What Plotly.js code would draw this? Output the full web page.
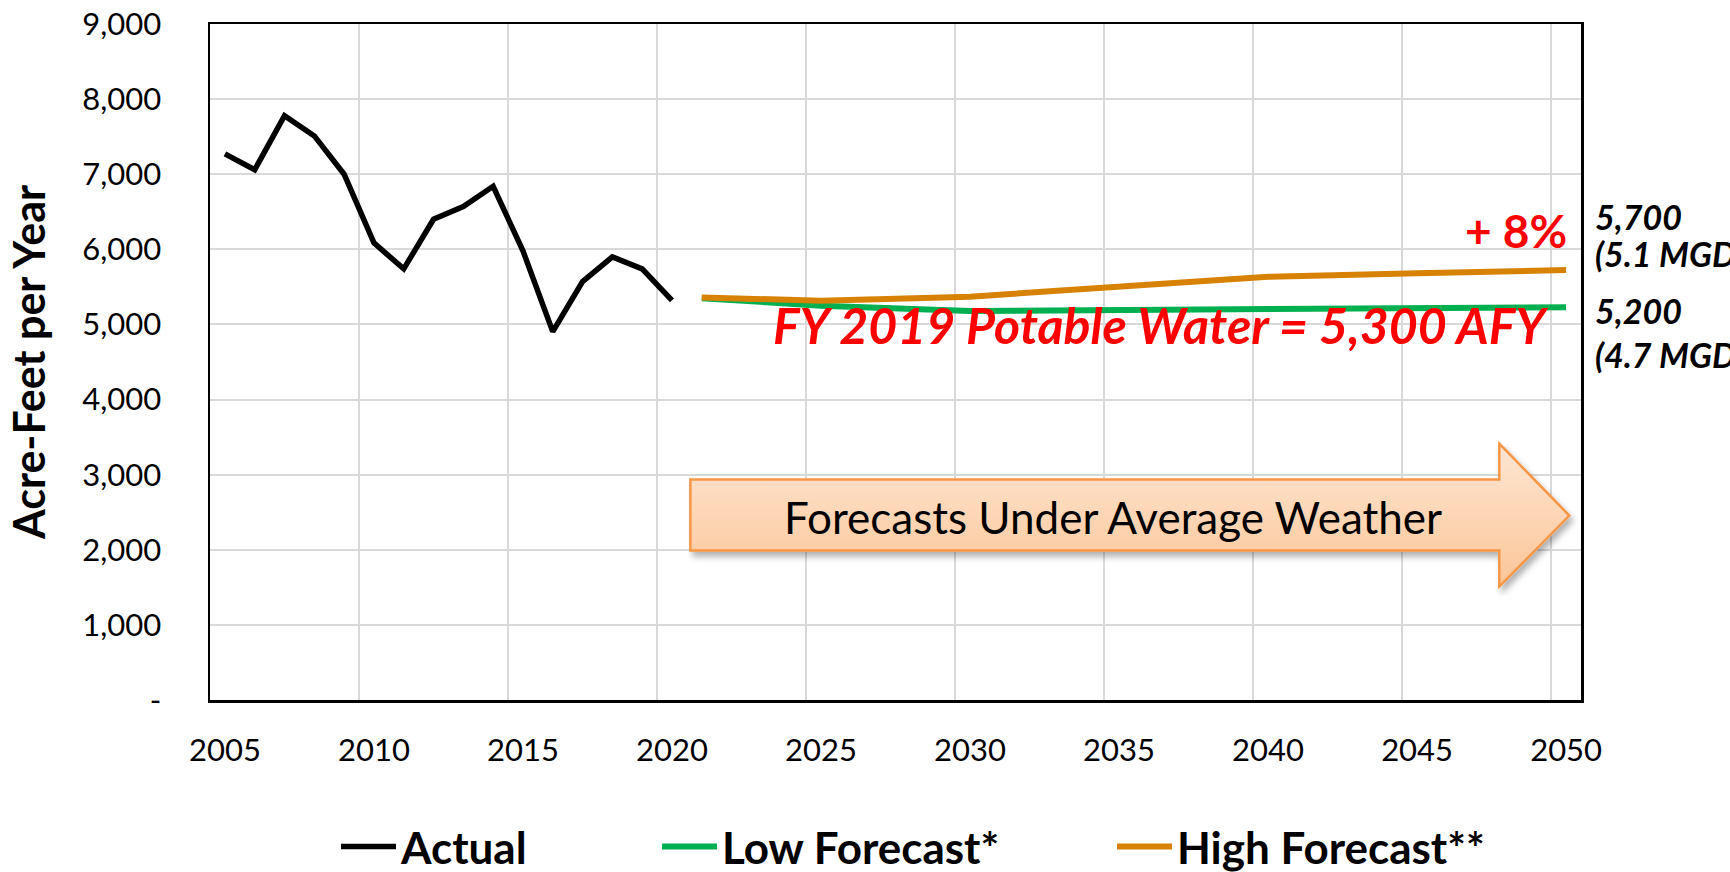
<!DOCTYPE html>
<html>
<head>
<meta charset="utf-8">
<script src="https://cdn.plot.ly/plotly-3.0.1.min.js"></script>
<style>
html,body{margin:0;padding:0;background:#fff;}
#chart{width:1730px;height:872px;}
</style>
</head>
<body>
<div id="chart"></div>
<script>
// ---- data ----
const actualYears = [2005,2006,2007,2008,2009,2010,2011,2012,2013,2014,2015,2016,2017,2018,2019,2020];
const actualValues = [7270,7060,7780,7510,7000,6085,5740,6400,6570,6840,5980,4905,5570,5900,5740,5320];
const forecastYears = [2021,2025,2030,2035,2040,2045,2050];
const lowForecast = [5350,5250,5180,5195,5215,5222,5228];
const highForecast = [5360,5315,5370,5500,5635,5680,5725];
const xTickYears = [2005,2010,2015,2020,2025,2030,2035,2040,2045,2050];
const yTickValues = [0,1000,2000,3000,4000,5000,6000,7000,8000,9000];
const yTickLabels = ['-','1,000','2,000','3,000','4,000','5,000','6,000','7,000','8,000','9,000'];
const seriesNames = ['Actual', 'Low Forecast*', 'High Forecast**'];

const FONT = 'Lato, "Open Sans", sans-serif';
const gridYears = xTickYears.slice(1).map(y => y - 0.5);

const traces = [
  {x: actualYears, y: actualValues, type:'scatter', mode:'lines', name: seriesNames[0],
   line:{color:'#000000', width:5.5}, legend:'legend'},
  {x: forecastYears, y: lowForecast, type:'scatter', mode:'lines', name: seriesNames[1],
   line:{color:'#00b050', width:6}, legend:'legend2'},
  {x: forecastYears, y: highForecast, type:'scatter', mode:'lines', name: seriesNames[2],
   line:{color:'#d88205', width:6}, legend:'legend3'}
];

const arrowSvg = "<svg xmlns='http://www.w3.org/2000/svg' width='890' height='155' viewBox='0 0 890 155'>" +
  "<defs><linearGradient id='g' x1='0' y1='0' x2='0' y2='1'>" +
  "<stop offset='0' stop-color='#fde6d3'/><stop offset='0.5' stop-color='#fdd6b5'/><stop offset='1' stop-color='#fbc597'/></linearGradient>" +
  "<filter id='s' x='-5%' y='-10%' width='115%' height='135%'><feDropShadow dx='3' dy='5' stdDeviation='3' flood-color='#000' flood-opacity='0.3'/></filter></defs>" +
  "<path d='M2,38 L811,38 L811,2 L881,74 L811,145 L811,109 L2,109 Z' fill='url(#g)' stroke='#f79646' stroke-width='2.5' stroke-linejoin='miter' filter='url(#s)'/>" +
  "</svg>";
const arrowUri = 'data:image/svg+xml;charset=utf-8,' + encodeURIComponent(arrowSvg);

const legendBase = {orientation:'h', yref:'container', yanchor:'middle', y:(872-847)/872, xanchor:'left',
  font:{family:FONT, size:44, color:'#000', weight:'bold'}, itemwidth:55, bgcolor:'rgba(0,0,0,0)'};

const sideFont = {family:FONT, size:34, color:'#000', weight:'bold', style:'italic'};
const sideX = (1593-210)/1371;

const layout = {
  width:1730, height:872,
  margin:{l:210, r:149, t:24, b:172},
  paper_bgcolor:'#ffffff', plot_bgcolor:'#ffffff',
  font:{family:FONT, color:'#000'},
  xaxis:{
    type:'linear', range:[2004.5, 2050.5], tickmode:'array', tickvals:xTickYears,
    showgrid:false, zeroline:false, showline:true, mirror:true, linecolor:'#000', linewidth:2.5,
    ticks:'outside', ticklen:21, tickcolor:'rgba(0,0,0,0)',
    tickfont:{family:FONT, size:31, color:'#000'}, automargin:false,
    minor:{tickmode:'array', tickvals:gridYears, showgrid:true, gridcolor:'#d9d9d9', gridwidth:2, ticks:''}
  },
  yaxis:{
    range:[0,9000], tickmode:'array', tickvals:yTickValues, ticktext:yTickLabels,
    showgrid:true, gridcolor:'#d9d9d9', gridwidth:2, zeroline:false,
    showline:true, mirror:true, linecolor:'#000', linewidth:2.5,
    ticks:'outside', ticklen:40, tickcolor:'rgba(0,0,0,0)', automargin:false,
    tickfont:{family:FONT, size:31, color:'#000'},
    title:{text:'Acre-Feet per Year', font:{family:FONT, size:43, weight:'bold', color:'#000'}, standoff:24}
  },
  showlegend:true,
  legend: Object.assign({}, legendBase, {x:(336-210)/1371}),
  legend2: Object.assign({}, legendBase, {x:(657-210)/1371}),
  legend3: Object.assign({}, legendBase, {x:(1112-210)/1371}),
  images:[{source:arrowUri, xref:'x', yref:'y', x:2020.55, y:3440, sizex:29.86, sizey:2063,
    xanchor:'left', yanchor:'top', sizing:'stretch', layer:'above'}],
  annotations:[
    {text:'Forecasts Under Average Weather', xref:'x', yref:'y', x:2034.8, y:2440, showarrow:false,
     font:{family:FONT, size:44, color:'#000'}},
    {text:'FY 2019 Potable Water = 5,300 AFY', xref:'x', yref:'y', x:2036.4, y:4990, showarrow:false,
     font:{family:FONT, size:50, color:'#ff0000', weight:'bold', style:'italic'}},
    {text:'+ 8%', xref:'x', yref:'y', x:2050.1, y:6250, xanchor:'right', showarrow:false,
     font:{family:FONT, size:46, color:'#ff0000', weight:'bold'}},
    {text:'5,700', xref:'paper', yref:'y', x:sideX, y:6440, xanchor:'left', showarrow:false, font:sideFont},
    {text:'(5.1 MGD)', xref:'paper', yref:'y', x:sideX, y:5950, xanchor:'left', showarrow:false, font:sideFont},
    {text:'5,200', xref:'paper', yref:'y', x:sideX, y:5180, xanchor:'left', showarrow:false, font:sideFont},
    {text:'(4.7 MGD)', xref:'paper', yref:'y', x:sideX, y:4595, xanchor:'left', showarrow:false, font:sideFont}
  ]
};

Plotly.newPlot('chart', traces, layout, {displayModeBar:false, staticPlot:true});
</script>
</body>
</html>
